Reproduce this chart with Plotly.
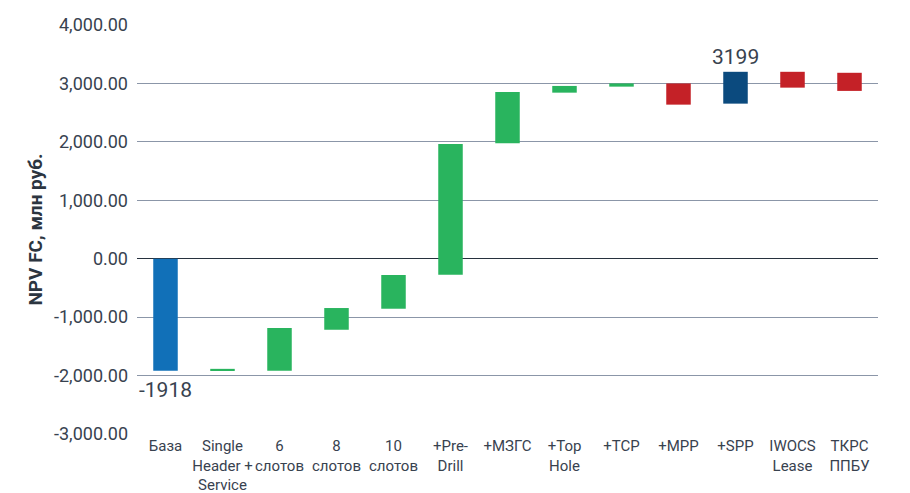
import plotly.graph_objects as go

categories = ["База", "Single<br>Header +<br>Service", "6<br>слотов", "8<br>слотов", "10<br>слотов",
              "+Pre-<br>Drill", "+МЗГС", "+Top<br>Hole", "+TCP", "+MPP", "+SPP", "IWOCS<br>Lease", "ТКРС<br>ППБУ"]
low_values = [-1918, -1918, -1918, -1216, -856, -274, 1976, 2842, 2945, 2637, 2654, 2928, 2872]
high_values = [0, -1885, -1187, -844, -279, 1964, 2854, 2957, 3000, 3000, 3199, 3199, 3182]
bar_colors = ["#1170b8", "#29b45e", "#29b45e", "#29b45e", "#29b45e", "#29b45e", "#29b45e",
              "#29b45e", "#29b45e", "#c42127", "#0b4a7e", "#c42127", "#c42127"]
label_start = -1918
label_end = 3199
tick_vals = [-3000, -2000, -1000, 0, 1000, 2000, 3000, 4000]
tick_text = [f"{v:,.2f}" for v in tick_vals]

FONT = "Roboto, Liberation Sans, sans-serif"
TXT = "#38424f"

fig = go.Figure()
fig.add_trace(go.Bar(
    x=categories,
    base=low_values,
    y=[h - l for h, l in zip(high_values, low_values)],
    marker=dict(color=bar_colors, line=dict(width=0)),
    width=0.43,
    hoverinfo="skip",
))

fig.add_annotation(x=categories[10], y=label_end, text=str(label_end), showarrow=False,
                   yanchor="bottom", yshift=1, font=dict(family=FONT, size=21, color=TXT))
fig.add_annotation(x=categories[0], y=label_start, text=str(label_start), showarrow=False,
                   yanchor="top", yshift=-5, font=dict(family=FONT, size=21, color=TXT))

fig.update_layout(
    width=910, height=493,
    margin=dict(l=137, r=32, t=25, b=59),
    paper_bgcolor="white", plot_bgcolor="white",
    showlegend=False,
    font=dict(family=FONT, color=TXT),
    xaxis=dict(
        type="category",
        showgrid=False, showline=False, zeroline=False,
        ticks="", tickangle=0, automargin=False,
        tickfont=dict(family=FONT, size=15, color=TXT),
        ticklabelstandoff=1,
    ),
    yaxis=dict(
        range=[-3000, 4000],
        tickvals=tick_vals,
        ticktext=tick_text,
        showgrid=True, gridcolor="#8b96a8", gridwidth=1,
        zeroline=True, zerolinecolor="#27313e", zerolinewidth=1,
        showline=False, ticks="", automargin=False,
        tickfont=dict(family=FONT, size=18, color=TXT),
        ticklabelstandoff=8,
        title=dict(text="<b>NPV FC, млн руб.</b>", font=dict(family=FONT, size=19, color="#2c3540"),
                   standoff=6),
    ),
)

fig.write_html("out.html")
